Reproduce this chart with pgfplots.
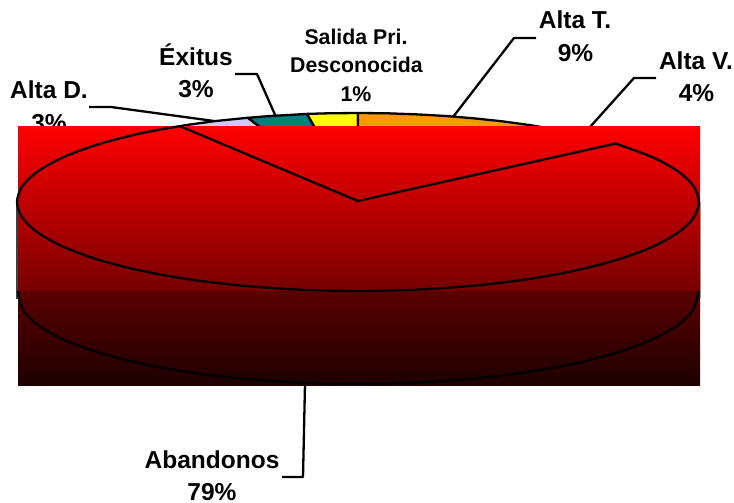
\documentclass[border=0pt]{standalone}
\usepackage{fontspec}
\setmainfont{Liberation Sans}
\usepackage{pgfplots}
\pgfplotsset{compat=1.18}

\definecolor{altat}{HTML}{FF9900}
\definecolor{altav}{HTML}{CC99FF}
\definecolor{altad}{HTML}{CCCCFF}
\definecolor{exitus}{HTML}{008080}
\definecolor{salida}{HTML}{FFFF00}
\definecolor{midred}{HTML}{760000}
\definecolor{lowred}{HTML}{5A0000}
\definecolor{endred}{HTML}{1E0000}

\tikzset{
  big/.style={font=\bfseries\fontsize{24.5}{28}\selectfont, anchor=base, inner sep=0pt},
  small/.style={font=\bfseries\fontsize{21.3}{25}\selectfont, anchor=base, inner sep=0pt}
}

\begin{document}
\begin{tikzpicture}[x=1pt,y=1pt]
  \path[use as bounding box] (0,0) rectangle (734,503);
  \begin{axis}[
    at={(0,0)}, anchor=south west,
    scale only axis,
    width=734pt, height=503pt,
    xmin=0, xmax=734, ymin=0, ymax=503,
    y dir=reverse,
    hide axis,
    clip=false,
    every axis plot/.append style={line width=2.3pt, line join=round}
  ]
    % labels and leaders lie under the red block
    \node[big] at (axis cs:575,29) {Alta T.};
    \node[big] at (axis cs:575.5,62) {9\%};
    \node[big] at (axis cs:696,70) {Alta V.};
    \node[big] at (axis cs:696.5,102) {4\%};
    \node[big] at (axis cs:196,66) {Éxitus};
    \node[big] at (axis cs:196,98) {3\%};
    \node[big] at (axis cs:49,99) {Alta D.};
    \node[big] at (axis cs:49,131) {3\%};
    \node[small] at (axis cs:356,45) {Salida Pri.};
    \node[small] at (axis cs:356.5,73) {Desconocida};
    \node[small] at (axis cs:356,102) {1\%};
    \node[big] at (axis cs:212,468) {Abandonos};
    \node[big] at (axis cs:212,500) {79\%};

    % slices, only a strip of them stays visible
    \addplot[fill=altad, draw=black] coordinates {
      (358,202) (179.8,126.1) (187.5,124.9) (214,121.2) (241.4,118.4) (248,117.8)
    } -- cycle;
    \addplot[fill=exitus, draw=black] coordinates {
      (358,202) (248,117.8) (270,116) (298.8,114.4) (307,113.9)
    } -- cycle;
    \addplot[fill=salida, draw=black] coordinates {
      (358,202) (307,113.9) (328.3,113.3) (358,113)
    } -- cycle;
    \addplot[fill=altat, draw=black] coordinates {
      (358,202) (358,113) (387.7,113.3) (417.2,114.4) (446,116) (474.6,118.4) (502,121.3) (528.5,124.9) (541,127)
    } -- cycle;
    \addplot[fill=altav, draw=black] coordinates {
      (358,202) (541,127) (577.2,133.8) (615.4,143.6)
    } -- cycle;

    % leaders
    \addplot[black] coordinates {(453,117) (514,38) (536,38)};
    \addplot[black] coordinates {(590,127) (634,78) (656,78)};
    \addplot[black] coordinates {(276,117) (257,74) (235,74)};
    \addplot[black] coordinates {(214,121) (111,107) (89,107)};
    \addplot[black] coordinates {(305,384) (303,477) (282,477)};

    % side walls, under the block's edge
    \addplot[black!75] coordinates {(17,202) (17,299)};
    \addplot[black!35, line width=1pt] coordinates {(700.5,202) (700.5,298)};

    % gradient block
    \addplot[draw=none, top color=red, bottom color=midred] coordinates {
      (18,126) (700,126) (700,291) (18,291)
    } -- cycle;
    \addplot[draw=none, top color=lowred, bottom color=endred] coordinates {
      (18,291) (700,291) (700,385) (18,385)
    } -- cycle;

    % Abandonos outline, top face
    \addplot[black] coordinates {(358,201) (179.8,126.1)};
    \addplot[black] coordinates {(358,201) (615.4,143.6)};
    \addplot[black, smooth] coordinates {
      (179.8,126.1) (138.8,133.8) (96.8,144.8) (62.7,157.5) (37.6,171.6) (22.2,186.5) (17,202)
      (22.2,217.5) (37.6,232.4) (62.7,246.5) (96.8,259.2) (138.8,270.2) (187.5,279.1)
      (241.4,285.6) (298.8,289.6) (358,291) (417.2,289.6) (474.6,285.6) (528.5,279.1)
      (577.2,270.2) (619.2,259.2) (653.3,246.5) (678.4,232.4) (693.8,217.5) (699,202)
      (693.8,186.5) (678.4,171.6) (653.3,157.5) (619.2,144.8) (615.4,143.6)
    };
    % lower rim
    \addplot[black, smooth] coordinates {
      (18.5,291) (18.5,295) (23.2,310.5) (38.5,325.4) (63.6,339.5) (97.6,352.2) (139.4,363.2)
      (188,372.1) (241.7,378.6) (299,382.6) (358,384) (417,382.6) (474.3,378.6) (528,372.1)
      (576.6,363.2) (618.4,352.2) (652.4,339.5) (677.5,325.4) (692.8,310.5) (698,295) (698,291)
    };
  \end{axis}
\end{tikzpicture}
\end{document}
